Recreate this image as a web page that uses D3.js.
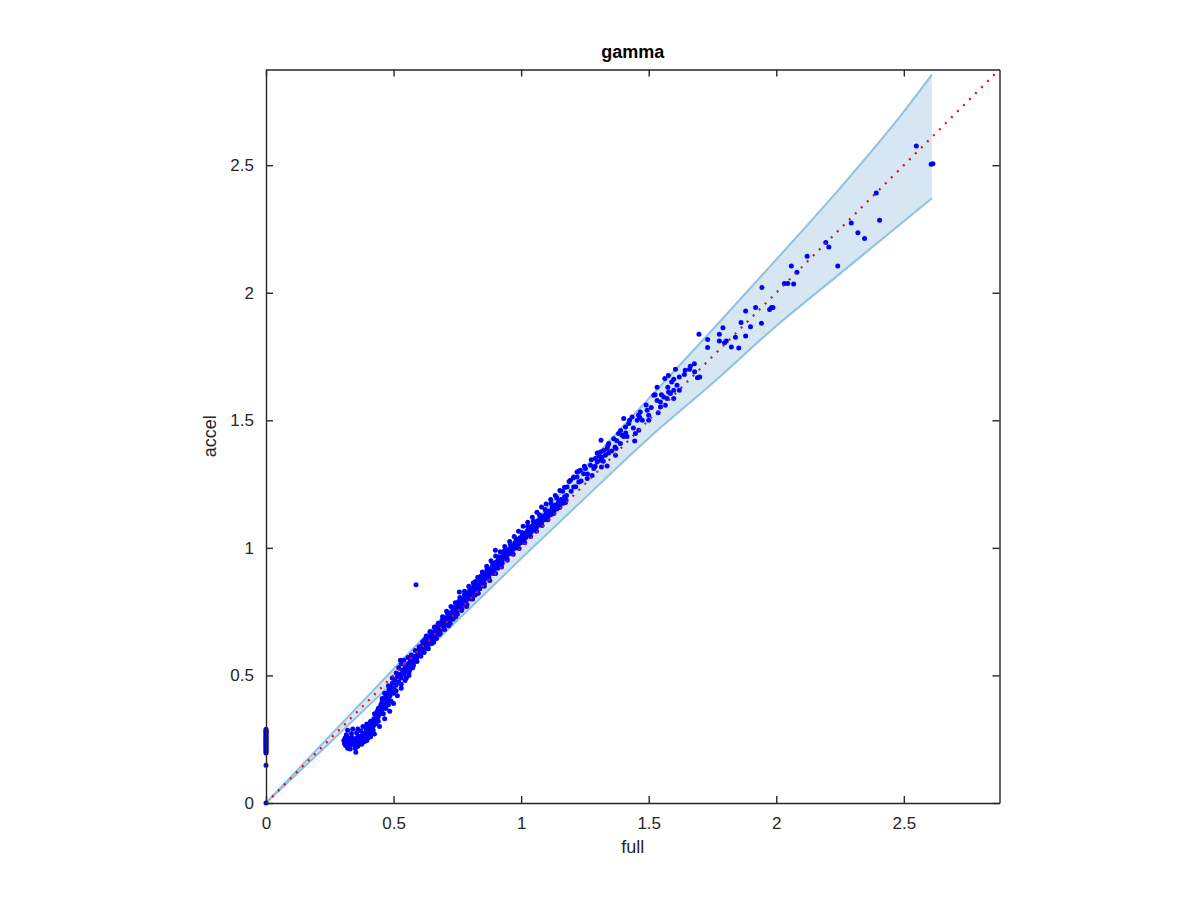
<!DOCTYPE html>
<html><head><meta charset="utf-8">
<script src="https://cdn.jsdelivr.net/npm/d3@7"></script>
<style>body{margin:0;background:#fff}svg{display:block}text{font-family:"Liberation Sans",Arial,Helvetica,sans-serif}</style>
</head><body><svg id="c" width="1200" height="900"></svg>
<script>
const titleText = "gamma", xLabel = "full", yLabel = "accel";
const domainMax = 2.875;
const tickValues = [0, 0.5, 1, 1.5, 2, 2.5];
const tickLabels = ["0", "0.5", "1", "1.5", "2", "2.5"];

// confidence band
const bandX     = [0, 0.25, 0.5, 0.75, 1.0, 1.25, 1.5, 1.75, 2.0, 2.25, 2.5, 2.61];
const bandUpper = [0, 0.263, 0.525, 0.787, 1.048, 1.315, 1.585, 1.855, 2.13, 2.41, 2.71, 2.855];
const bandLower = [0, 0.236, 0.475, 0.715, 0.958, 1.195, 1.43, 1.645, 1.87, 2.075, 2.28, 2.37];

// points with full = 0
const zeroColumnY = [0, 0.148, 0.196, 0.2, 0.205, 0.209, 0.213, 0.217, 0.221, 0.225, 0.229, 0.233, 0.237, 0.241, 0.245, 0.249, 0.253, 0.257, 0.261, 0.265, 0.269, 0.273, 0.277, 0.281, 0.285, 0.289];

// low "hook" cluster
const hookPts = [[0.305,0.245],[0.308,0.232],[0.31,0.255],[0.312,0.225],[0.315,0.24],[0.318,0.26],[0.32,0.215],[0.322,0.248],[0.325,0.236],[0.328,0.252],[0.33,0.228],[0.333,0.244],[0.336,0.258],[0.34,0.235],[0.343,0.25],[0.346,0.226],[0.35,0.242],[0.352,0.199],[0.355,0.256],[0.358,0.233],[0.36,0.247],[0.363,0.262],[0.366,0.238],[0.37,0.252],[0.373,0.244],[0.376,0.265],[0.38,0.25],[0.383,0.27],[0.386,0.258],[0.39,0.276],[0.393,0.262],[0.396,0.285],[0.4,0.27],[0.403,0.292],[0.406,0.28],[0.41,0.305],[0.413,0.288],[0.416,0.318],[0.42,0.3],[0.423,0.33],[0.426,0.312],[0.43,0.345],[0.433,0.322],[0.436,0.36],[0.44,0.338],[0.443,0.372],[0.446,0.35],[0.45,0.385],[0.453,0.362],[0.456,0.398],[0.46,0.372],[0.463,0.41],[0.466,0.385],[0.47,0.42],[0.473,0.395],[0.476,0.432],[0.48,0.41],[0.483,0.445],[0.486,0.42],[0.49,0.455],[0.493,0.435],[0.496,0.47],[0.5,0.448],[0.505,0.48],[0.51,0.462],[0.515,0.495],[0.52,0.475],[0.525,0.505],[0.53,0.49],[0.535,0.52],[0.54,0.505],[0.545,0.53],[0.55,0.515],[0.555,0.545],[0.56,0.53],[0.565,0.555],[0.57,0.545],[0.575,0.565],[0.58,0.555],[0.585,0.575],[0.59,0.568],[0.595,0.585],[0.6,0.578],
[0.315,0.268],[0.335,0.272],[0.355,0.275],[0.372,0.282],[0.39,0.295],[0.41,0.275],[0.43,0.31],[0.45,0.35],[0.455,0.396],[0.47,0.37],[0.49,0.4],[0.5,0.43],[0.51,0.44],[0.527,0.56],[0.53,0.465],[0.55,0.49],[0.56,0.5],[0.575,0.53],[0.36,0.222],[0.385,0.24],[0.4,0.255],[0.42,0.285],[0.44,0.32],[0.46,0.35],[0.48,0.385],[0.588,0.855],
[0.32,0.285],[0.34,0.29],[0.36,0.29],[0.38,0.3],[0.395,0.31],[0.41,0.32],[0.425,0.35],[0.44,0.37],[0.455,0.41],[0.465,0.43],[0.48,0.46],[0.495,0.49],[0.51,0.51],[0.52,0.53],[0.53,0.545],[0.33,0.212],[0.35,0.215],[0.375,0.23],[0.395,0.245],[0.41,0.26],[0.425,0.27],[0.445,0.3],[0.465,0.33],[0.485,0.36],[0.5,0.39],[0.515,0.42],[0.53,0.45],[0.545,0.48],[0.56,0.51]];

// main diagonal cluster
const diagPts = [[0.6,0.6],[0.605,0.592],[0.61,0.615],[0.612,0.598],[0.616,0.622],[0.62,0.605],[0.624,0.63],[0.627,0.612],[0.63,0.64],[0.634,0.622],[0.638,0.645],[0.641,0.628],[0.645,0.655],[0.648,0.638],[0.652,0.66],[0.655,0.645],[0.659,0.672],[0.662,0.652],[0.666,0.68],[0.67,0.662],[0.673,0.688],[0.677,0.67],[0.68,0.695],[0.684,0.678],[0.688,0.702],[0.691,0.685],[0.695,0.712],[0.698,0.695],[0.702,0.72],[0.706,0.7],[0.71,0.728],[0.713,0.712],[0.717,0.738],[0.72,0.72],[0.724,0.745],[0.728,0.728],[0.732,0.752],[0.735,0.74],[0.739,0.762],[0.742,0.748],[0.746,0.77],[0.75,0.755],[0.753,0.778],[0.757,0.765],[0.758,0.827],[0.761,0.785],[0.765,0.772],[0.768,0.792],[0.772,0.78],[0.776,0.8],[0.78,0.79],[0.783,0.812],[0.787,0.798],[0.791,0.82],[0.795,0.808],[0.798,0.83],[0.802,0.815],[0.806,0.838],[0.81,0.825],[0.814,0.848],[0.818,0.835],[0.822,0.855],[0.826,0.842],[0.83,0.865],[0.834,0.85],[0.838,0.872],[0.842,0.86],[0.846,0.882],[0.85,0.868],[0.854,0.89],[0.858,0.878],[0.862,0.9],[0.866,0.885],[0.87,0.908],[0.874,0.895],[0.878,0.915],[0.882,0.905],[0.886,0.925],[0.89,0.912],[0.894,0.935],[0.899,0.991],[0.898,0.92],[0.902,0.945],[0.906,0.93],[0.91,0.952],[0.915,0.94],[0.92,0.962],[0.924,0.948],[0.928,0.97],[0.932,0.958],[0.936,0.98],[0.94,0.965],[0.945,0.99],[0.95,0.975],[0.955,0.998],[0.96,0.985],[0.965,1.008],[0.97,0.995],[0.975,1.02],[0.98,1.005],[0.985,1.03],[0.99,1.015],[0.995,1.04],[1.0,1.025],[1.005,1.05],[1.01,1.035],[1.015,1.058],[1.02,1.045],[1.025,1.068],[1.03,1.052],[1.035,1.078],[1.04,1.062],[1.045,1.088],[1.05,1.072],[1.055,1.098],[1.06,1.08],[1.065,1.105],[1.07,1.09],[1.075,1.115],[1.08,1.1],[1.086,1.125],[1.092,1.11],[1.098,1.135],[1.104,1.12],[1.11,1.145],[1.116,1.13],[1.122,1.158],[1.128,1.142],[1.134,1.168],[1.14,1.152],[1.146,1.18],[1.152,1.165],[1.158,1.19],[1.164,1.175],[1.17,1.2],[1.176,1.188],
[0.622,0.64],[0.633,0.61],[0.644,0.668],[0.657,0.63],[0.668,0.69],[0.679,0.66],[0.69,0.715],[0.7,0.68],[0.712,0.745],[0.722,0.705],[0.733,0.765],[0.744,0.73],[0.755,0.79],[0.766,0.755],[0.777,0.815],[0.788,0.778],[0.799,0.84],[0.81,0.8],[0.821,0.868],[0.832,0.822],[0.843,0.89],[0.855,0.85],[0.866,0.915],[0.877,0.872],[0.888,0.94],[0.9,0.9],[0.912,0.965],[0.923,0.925],[0.935,0.99],[0.946,0.952],[0.958,1.012],[0.969,0.975],[0.98,1.035],[0.992,0.998],[1.003,1.06],[1.014,1.02],[1.026,1.085],[1.037,1.045],[1.048,1.105],[1.06,1.065],[1.071,1.13],[1.082,1.088],[1.094,1.15],[1.105,1.11],[1.117,1.175],[1.128,1.135],[1.14,1.195],[1.151,1.158],[1.163,1.222],[1.174,1.178]];

// extra scatter around the diagonal
const scatterPts = [[0.54,0.56],[0.548,0.535],[0.556,0.57],[0.563,0.52],[0.57,0.58],[0.578,0.54],[0.585,0.598],[0.592,0.555],[0.6,0.612],[0.607,0.575],[0.614,0.632],[0.62,0.59],[0.628,0.655],[0.636,0.605],[0.643,0.672],[0.65,0.625],[0.66,0.69],[0.668,0.645],[0.675,0.705],[0.683,0.665],[0.692,0.73],[0.7,0.7],[0.708,0.752],[0.716,0.695],[0.725,0.77],[0.733,0.72],[0.742,0.785],[0.75,0.74],[0.76,0.805],[0.768,0.76],[0.778,0.83],[0.786,0.77],[0.795,0.85],[0.803,0.8],[0.812,0.862],[0.82,0.815],[0.83,0.885],[0.838,0.84],[0.848,0.905],[0.856,0.86],[0.865,0.928],[0.873,0.885],[0.882,0.95],[0.89,0.9],[0.9,0.968],[0.908,0.92],[0.918,0.985],[0.926,0.94],[0.936,1.005],[0.944,0.958],[0.955,1.025],[0.963,0.978],[0.973,1.045],[0.981,1.0],[0.99,1.065],[0.998,1.02],[1.008,1.085],[1.016,1.038],[1.026,1.1],[1.034,1.058],[1.044,1.12],[1.052,1.075],[1.062,1.14],[1.07,1.098],[1.08,1.16],[1.088,1.118],[1.098,1.172],[1.106,1.138],[1.116,1.19],[1.124,1.155],[1.134,1.205],[1.142,1.17],[1.152,1.225],[1.16,1.19],[1.17,1.238],[1.178,1.205],[1.188,1.26],[1.196,1.222],[1.205,1.275],[1.214,1.24],[1.225,1.3],[1.235,1.262],[1.248,1.32],[1.26,1.29],[1.275,1.345],[1.29,1.32],[1.305,1.36],[1.322,1.34],[1.34,1.4],[1.355,1.38],[1.375,1.42],[1.39,1.46],[1.41,1.45],[1.425,1.5],[1.44,1.47],[1.46,1.52],[1.475,1.5],[1.49,1.56],[1.51,1.55],[1.525,1.6],[1.55,1.6],[1.575,1.63],[1.59,1.65],[1.62,1.67],[1.64,1.68],[1.66,1.7],[1.68,1.69]];

// upper, sparser part
const upperPts = [[1.18,1.239],[1.193,1.265],[1.206,1.239],[1.219,1.278],[1.226,1.258],[1.245,1.291],[1.259,1.272],[1.278,1.284],[1.232,1.304],[1.252,1.311],[1.206,1.278],[1.219,1.297],[1.272,1.324],[1.285,1.311],[1.298,1.337],[1.311,1.343],[1.291,1.35],[1.298,1.372],[1.311,1.376],[1.324,1.382],[1.337,1.389],[1.33,1.363],[1.317,1.356],[1.315,1.317],[1.337,1.321],[1.313,1.422],[1.343,1.409],[1.363,1.428],[1.382,1.448],[1.396,1.441],[1.389,1.409],[1.368,1.395],[1.372,1.389],[1.343,1.372],[1.37,1.363],[1.409,1.474],[1.402,1.507],[1.422,1.487],[1.435,1.513],[1.455,1.5],[1.467,1.533],[1.494,1.539],[1.5,1.52],[1.461,1.461],[1.448,1.448],[1.5,1.5],[1.445,1.419],[1.415,1.437],[1.402,1.437],[1.465,1.511],[1.52,1.598],[1.533,1.578],[1.546,1.572],[1.559,1.591],[1.572,1.585],[1.585,1.605],[1.598,1.618],[1.533,1.63],[1.611,1.637],[1.546,1.552],[1.565,1.559],[1.537,1.53],[1.598,1.585],[1.563,1.664],[1.577,1.676],[1.578,1.611],[1.62,1.618],[1.598,1.661],[1.605,1.7],[1.643,1.696],[1.663,1.712],[1.679,1.722],[1.7,1.67],[1.691,1.667],[1.697,1.837],[1.731,1.817],[1.731,1.785],[1.777,1.837],[1.777,1.811],[1.791,1.863],[1.797,1.804],[1.804,1.811],[1.824,1.787],[1.84,1.826],[1.853,1.783],[1.862,1.883],[1.88,1.83],[1.88,1.928],[1.899,1.867],[1.919,1.942],[1.942,1.88],[1.974,1.934],[1.981,1.942],[1.987,1.942],[1.944,2.021],[2.032,2.036],[2.045,2.036],[2.068,2.034],[2.081,2.08],[2.059,2.105],[2.121,2.143],[2.194,2.197],[2.206,2.179],[2.241,2.105],[2.294,2.273],[2.32,2.235],[2.346,2.213],[2.392,2.391],[2.405,2.284],[2.549,2.575],[2.607,2.504],[2.614,2.506]];

const svg = d3.select("#c");
const L = 266, T = 69.5, W = 733.5, H = 733.5;
const x = d3.scaleLinear().domain([0, domainMax]).range([L, L + W]);
const y = d3.scaleLinear().domain([0, domainMax]).range([T + H, T]);

const bandData = bandX.map((v, i) => ({x: v, u: bandUpper[i], l: bandLower[i]}));
svg.append("path").datum(bandData)
  .attr("d", d3.area().curve(d3.curveMonotoneX).x(d => x(d.x)).y0(d => y(d.l)).y1(d => y(d.u)))
  .attr("fill", "#d6e7f3");
["u", "l"].forEach(k => {
  svg.append("path").datum(bandData)
    .attr("d", d3.line().curve(d3.curveMonotoneX).x(d => x(d.x)).y(d => y(d[k])))
    .attr("fill", "none").attr("stroke", "#8ec2e1").attr("stroke-width", 2);
});

const allPts = zeroColumnY.map(v => [0, v]).concat(hookPts, diagPts, scatterPts, upperPts);
svg.append("g").selectAll("circle").data(allPts).join("circle")
  .attr("cx", d => x(d[0])).attr("cy", d => y(d[1])).attr("r", 2.5).attr("fill", "#0000ff");

svg.append("line")
  .attr("x1", x(0)).attr("y1", y(0)).attr("x2", x(domainMax)).attr("y2", y(domainMax))
  .attr("stroke", "#ff0000").attr("stroke-width", 2.2).attr("stroke-dasharray", "2,6.5");

// axes (MATLAB box style, ticks inward)
const axColor = "#262626";
const tickLen = 7;
const fmt = (d) => tickLabels[tickValues.indexOf(d)];
const gB = svg.append("g").attr("transform", `translate(0,${T + H})`)
  .call(d3.axisBottom(x).tickValues(tickValues).tickFormat(fmt).tickSizeInner(-tickLen).tickSizeOuter(0).tickPadding(14));
const gT = svg.append("g").attr("transform", `translate(0,${T})`)
  .call(d3.axisTop(x).tickValues(tickValues).tickFormat("").tickSizeInner(-tickLen).tickSizeOuter(0));
const gL = svg.append("g").attr("transform", `translate(${L},0)`)
  .call(d3.axisLeft(y).tickValues(tickValues).tickFormat(fmt).tickSizeInner(-tickLen).tickSizeOuter(0).tickPadding(12));
const gR = svg.append("g").attr("transform", `translate(${L + W},0)`)
  .call(d3.axisRight(y).tickValues(tickValues).tickFormat("").tickSizeInner(-tickLen).tickSizeOuter(0));
[gB, gT, gL, gR].forEach(g => {
  g.selectAll("path.domain").attr("stroke", axColor).attr("stroke-width", 1.4);
  g.selectAll(".tick line").attr("stroke", axColor).attr("stroke-width", 1.4);
  g.selectAll("text").attr("fill", "#262626").style("font-size", "17px")
    .style("font-family", '"Liberation Sans", Arial, sans-serif');
});

svg.append("text").attr("x", L + W / 2).attr("y", 58).attr("text-anchor", "middle")
  .style("font-size", "18px").style("font-weight", "bold").attr("fill", "#000").text(titleText);
svg.append("text").attr("x", L + W / 2).attr("y", 853).attr("text-anchor", "middle")
  .style("font-size", "18px").attr("fill", "#262626").text(xLabel);
svg.append("text").attr("transform", `translate(216,${T + H / 2}) rotate(-90)`).attr("text-anchor", "middle")
  .style("font-size", "18px").attr("fill", "#262626").text(yLabel);
</script></body></html>
